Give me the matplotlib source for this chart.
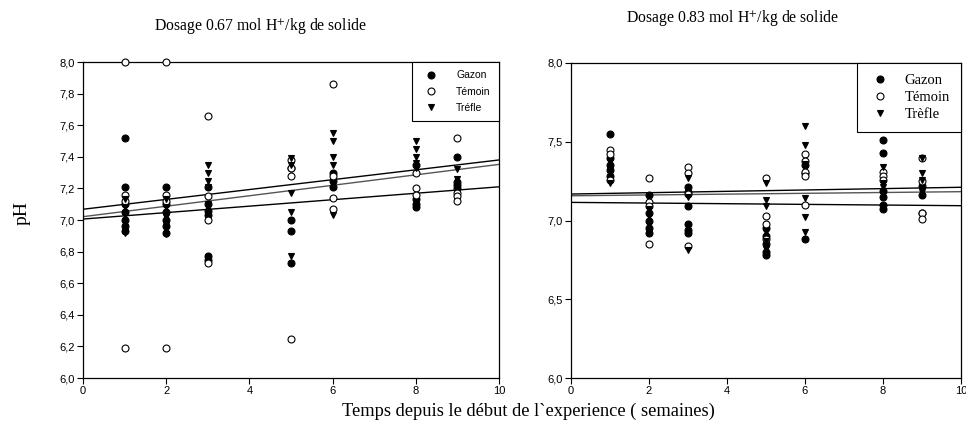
import numpy as np
import matplotlib.pyplot as plt
from matplotlib.ticker import FuncFormatter

plt.rcParams['mathtext.fontset'] = 'stix'

# ---- dose 0.67 mol H+/kg ----
gazon_067_x = [1]*7 + [2]*6 + [3]*6 + [5]*4 + [6]*3 + [8]*4 + [9]*4
gazon_067_y = [7.52, 7.21, 7.10, 7.05, 7.00, 6.96, 6.93,
               7.21, 7.10, 7.05, 7.00, 6.96, 6.92,
               7.21, 7.10, 7.06, 7.03, 6.77, 6.75,
               7.33, 7.00, 6.93, 6.73,
               7.30, 7.25, 7.21,
               7.35, 7.13, 7.10, 7.08,
               7.40, 7.24, 7.22, 7.20]
temoin_067_x = [1]*4 + [2]*4 + [3]*4 + [5]*4 + [6]*4 + [8]*4 + [9]*4
temoin_067_y = [8.00, 7.16, 7.12, 6.19,
                8.00, 7.16, 7.12, 6.19,
                7.66, 7.15, 7.00, 6.73,
                7.38, 7.33, 7.28, 6.25,
                7.86, 7.28, 7.14, 7.07,
                7.71, 7.30, 7.20, 7.16,
                7.52, 7.17, 7.15, 7.12]
trefle_067_x = [1]*5 + [2]*5 + [3]*5 + [5]*5 + [6]*5 + [8]*5 + [9]*2
trefle_067_y = [7.13, 7.08, 7.03, 6.98, 6.92,
                7.13, 7.08, 7.02, 6.97, 6.91,
                7.35, 7.30, 7.25, 7.21, 7.10,
                7.39, 7.35, 7.17, 7.05, 6.77,
                7.55, 7.50, 7.40, 7.35, 7.03,
                7.50, 7.45, 7.40, 7.36, 7.33,
                7.32, 7.26]
# regression lines read at week 0 and week 10
lines_067 = [((7.068, 7.380), 'black'), ((7.021, 7.352), '#555555'), ((7.006, 7.210), 'black')]

# ---- dose 0.83 mol H+/kg ----
gazon_083_x = [1]*5 + [2]*5 + [3]*6 + [5]*5 + [6]*3 + [8]*6 + [9]*3
gazon_083_y = [7.55, 7.40, 7.35, 7.32, 7.28,
               7.16, 7.05, 7.00, 6.95, 6.92,
               7.21, 7.18, 7.09, 6.98, 6.94, 6.92,
               6.95, 6.90, 6.85, 6.80, 6.78,
               7.35, 7.30, 6.88,
               7.51, 7.43, 7.19, 7.15, 7.10, 7.07,
               7.22, 7.16, 7.05]
temoin_083_x = [1]*3 + [2]*4 + [3]*4 + [5]*4 + [6]*5 + [8]*3 + [9]*4
temoin_083_y = [7.45, 7.42, 7.26,
                7.27, 7.12, 7.09, 6.85,
                7.34, 7.30, 7.17, 6.84,
                7.27, 7.03, 6.98, 6.88,
                7.42, 7.38, 7.31, 7.28, 7.10,
                7.31, 7.28, 7.26,
                7.40, 7.25, 7.05, 7.01]
trefle_083_x = [1]*3 + [2]*4 + [3]*3 + [5]*6 + [6]*6 + [8]*3 + [9]*4
trefle_083_y = [7.38, 7.33, 7.24,
                7.07, 7.03, 6.98, 6.93,
                7.27, 7.15, 6.81,
                7.24, 7.13, 7.09, 6.93, 6.87, 6.82,
                7.60, 7.48, 7.36, 7.14, 7.02, 6.93,
                7.34, 7.24, 7.21,
                7.40, 7.30, 7.26, 7.18]
lines_083 = [((7.168, 7.211), 'black'), ((7.157, 7.183), '#555555'), ((7.115, 7.094), 'black')]

labels_067 = ['Gazon', 'Témoin', 'Tréfle']
labels_083 = ['Gazon', 'Témoin', 'Trèfle']

fig = plt.figure(figsize=(9.66, 4.24), dpi=100)
ax1 = fig.add_axes([83/966, 46/424, 416/966, 316/424])
ax2 = fig.add_axes([571/966, 46/424, 390/966, 315/424])

comma = FuncFormatter(lambda v, p: f'{v:.1f}'.replace('.', ','))


def draw(ax, series, labels, lines, yticks, legfont, legsize, legopts):
    styles = [dict(marker='o', mfc='black', mec='black'),
              dict(marker='o', mfc='white', mec='black'),
              dict(marker='v', mfc='black', mec='black')]
    for (xs, ys), lab, st in zip(series, labels, styles):
        ax.plot(xs, ys, ls='none', ms=5, mew=0.8, label=lab, clip_on=False, zorder=3, **st)
    for (y0, y1), c in lines:
        ax.plot([0, 10], [y0, y1], color=c, lw=1, zorder=2)
    ax.set_xlim(0, 10)
    ax.set_ylim(6.0, 8.0)
    ax.set_xticks([0, 2, 4, 6, 8, 10])
    ax.set_yticks(yticks)
    ax.yaxis.set_major_formatter(comma)
    ax.tick_params(direction='out', length=4, width=0.8, labelsize=8, pad=2)
    for lab in ax.get_xticklabels() + ax.get_yticklabels():
        lab.set_fontfamily('Liberation Sans')
    for s in ax.spines.values():
        s.set_linewidth(0.9)
    leg = ax.legend(loc='upper right', bbox_to_anchor=(1, 1), borderaxespad=0,
                    fancybox=False, framealpha=1, edgecolor='black',
                    prop={'family': legfont, 'size': legsize}, **legopts)
    leg.get_frame().set_linewidth(0.8)
    leg.set_zorder(5)


draw(ax1, [(gazon_067_x, gazon_067_y), (temoin_067_x, temoin_067_y), (trefle_067_x, trefle_067_y)],
     labels_067, lines_067, np.arange(6.0, 8.01, 0.2), 'Liberation Sans', 7.5,
     dict(handletextpad=1.4, labelspacing=0.6, borderpad=0.8, handlelength=2.0))
draw(ax2, [(gazon_083_x, gazon_083_y), (temoin_083_x, temoin_083_y), (trefle_083_x, trefle_083_y)],
     labels_083, lines_083, [6.0, 6.5, 7.0, 7.5, 8.0], 'Liberation Serif', 10.5,
     dict(handletextpad=0.9, labelspacing=0.25, borderpad=0.75, handlelength=1.6))

fig.text(260/966, 1 - 26/424, r'Dosage 0.67 mol H$^{+}$/kg de solide', ha='center', va='center',
         family='Liberation Serif', fontsize=11.3)
fig.text(732/966, 1 - 18/424, r'Dosage 0.83 mol H$^{+}$/kg de solide', ha='center', va='center',
         family='Liberation Serif', fontsize=11.3)
fig.text(528/966, 1 - 411/424, "Temps depuis le début de l`experience ( semaines)", ha='center', va='center',
         family='Liberation Serif', fontsize=13.2)
fig.text(22/966, 1 - 213/424, 'pH', rotation=90, ha='center', va='center',
         family='Liberation Serif', fontsize=14)

fig.savefig('out.png', dpi=100)
